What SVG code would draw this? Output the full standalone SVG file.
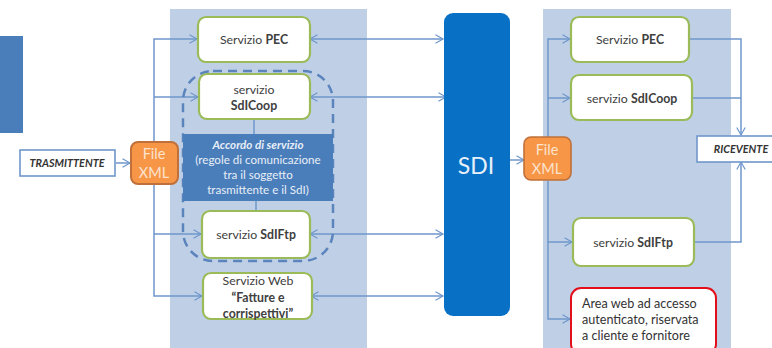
<svg xmlns="http://www.w3.org/2000/svg" width="772" height="348" viewBox="0 0 772 348">
<style>
text{font-family:Lato,"Open Sans",sans-serif;font-size:12.3px;fill:#404040;text-anchor:middle}
.b{font-weight:700}
.g{fill:#fff;stroke:#9bbb59;stroke-width:2.2}
.p{fill:#bfd0e6}
.c{fill:none;stroke:#6f97cb;stroke-width:1.5}
.a{fill:none;stroke:#6f97cb;stroke-width:1.5;marker-end:url(#ah)}
.d{fill:none;stroke:#6f97cb;stroke-width:1.5;marker-start:url(#ah);marker-end:url(#ah)}
.o{fill:#f79646;stroke:#c0703a;stroke-width:2}
.w{fill:#fbe3cf;font-size:14.5px}
.u{fill:#e8eef7;font-size:11.6px}
.t{font-style:italic;font-weight:700;font-size:10.8px;fill:#333}
.l{text-anchor:start;fill:#333;font-size:12.6px}
</style>
<defs>
<marker id="ah" markerWidth="10" markerHeight="10" refX="8" refY="5" orient="auto-start-reverse" markerUnits="userSpaceOnUse"><path d="M0.5 0.8L8 5L0.5 9.2" fill="none" stroke="#6f97cb" stroke-width="1.2"/></marker>
</defs>
<rect class="p" x="170" y="9" width="197" height="339"/>
<rect class="p" x="543" y="9" width="188" height="339"/>
<path d="M0 36H23V133H0Z" fill="#4a7ebb"/>
<g id="connectors">
<path class="a" d="M154 141V39H197"/>
<path class="a" d="M154 97H198"/>
<path class="a" d="M154 234H201"/>
<path class="a" d="M154 185V296H202"/>
<path class="a" d="M116 163H130"/>
<path class="d" d="M310 39H443"/>
<path class="d" d="M310 97H446"/>
<path class="d" d="M310 234H443"/>
<path class="d" d="M311 296H443"/>
<path class="c" d="M254 120V134M256 201V210"/>
<path class="a" d="M509 160H524"/>
<path class="a" d="M548 137V39H570"/>
<path class="a" d="M548 98H570"/>
<path class="a" d="M548 181V242H572"/>
<path class="a" d="M548 242V319H570"/>
<path class="a" d="M690 39H741V135"/>
<path class="c" d="M693 98H741"/>
<path class="a" d="M695 242H741V162"/>
</g>
<g id="accordo">
<rect x="183" y="71" width="150" height="190" rx="30" fill="none" stroke="#5b84bd" stroke-width="2.5" stroke-dasharray="9 6"/>
<rect x="183" y="134" width="150" height="67" fill="#4a7ebb"/>
<text class="u b" x="258" y="149" font-style="italic">Accordo di servizio</text>
<text class="u" x="258" y="164">(regole di comunicazione</text>
<text class="u" x="258" y="179">tra il soggetto</text>
<text class="u" x="258" y="194">trasmittente e il SdI)</text>
</g>
<g id="trasmittente"><rect x="20" y="150" width="95" height="26" fill="#fff" stroke="#6f97cb" stroke-width="1.6"/><text class="t" x="67" y="167">TRASMITTENTE</text></g>
<g id="file-xml-1"><rect class="o" x="131" y="142" width="47" height="42" rx="7"/><text class="w" x="154" y="159">File</text><text class="w" x="154" y="178">XML</text></g>
<g id="pec-1"><rect class="g" x="198" y="17" width="112" height="45" rx="8"/><text x="254" y="44">Servizio <tspan class="b">PEC</tspan></text></g>
<g id="coop-1"><rect class="g" x="199" y="74" width="111" height="45" rx="8"/><text x="254" y="94">servizio</text><text class="b" x="254" y="110">SdICoop</text></g>
<g id="ftp-1"><rect class="g" x="202" y="211" width="108" height="47" rx="8"/><text x="256" y="239">servizio <tspan class="b">SdIFtp</tspan></text></g>
<g id="web-1"><rect class="g" x="203" y="273" width="109" height="46" rx="8"/><text x="258" y="285">Servizio Web</text><text class="b" x="258" y="302">“Fatture e</text><text class="b" x="258" y="318">corrispettivi”</text></g>
<g id="sdi"><rect x="444" y="13" width="66" height="303" rx="9" fill="#0870c5"/><text x="476" y="174" style="font-size:23px;fill:#e8f1fa">SDI</text></g>
<g id="file-xml-2"><rect x="524" y="137" width="47" height="43" rx="7" fill="#f79646" stroke="#c0703a" stroke-width="1.6"/><text class="w" x="547" y="155">File</text><text class="w" x="547" y="174">XML</text></g>
<g id="pec-2"><rect class="g" x="571" y="17" width="118" height="45" rx="8"/><text x="630" y="44">Servizio <tspan class="b">PEC</tspan></text></g>
<g id="coop-2"><rect class="g" x="571" y="75" width="121" height="45" rx="8"/><text x="632" y="103">servizio <tspan class="b">SdICoop</tspan></text></g>
<g id="ftp-2"><rect class="g" x="573" y="218" width="121" height="48" rx="8"/><text x="633" y="247">servizio <tspan class="b">SdIFtp</tspan></text></g>
<g id="area"><rect x="571" y="288" width="145" height="66" rx="10" fill="#fff" stroke="#e3101c" stroke-width="2"/><text class="l" x="582" y="308">Area web ad accesso</text><text class="l" x="582" y="324">autenticato, riservata</text><text class="l" x="582" y="340">a cliente e fornitore</text></g>
<g id="ricevente"><rect x="697" y="136" width="80" height="26" fill="#fff" stroke="#6f97cb" stroke-width="1.6"/><text class="t" x="741" y="153">RICEVENTE</text></g>
</svg>
